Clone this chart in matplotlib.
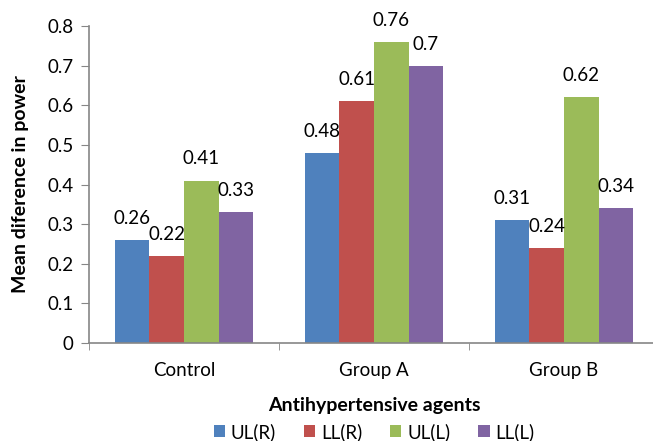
import numpy as np
import matplotlib.pyplot as plt

plt.rcParams['font.family'] = ['Lato', 'DejaVu Sans']

groups = ['Control', 'Group A', 'Group B']
series = ['UL(R)', 'LL(R)', 'UL(L)', 'LL(L)']
ul_r = [0.26, 0.48, 0.31]
ll_r = [0.22, 0.61, 0.24]
ul_l = [0.41, 0.76, 0.62]
ll_l = [0.33, 0.70, 0.34]
colors = ['#4F81BD', '#C0504D', '#9BBB59', '#8064A2']

fig = plt.figure(figsize=(6.53, 4.41), dpi=100)
ax = fig.add_axes([89 / 653, 98 / 441, 570 / 653, 317 / 441])

x = np.arange(len(groups))
w = 0.182
for i, (vals, name) in enumerate(zip([ul_r, ll_r, ul_l, ll_l], series)):
    pos = x + (i - 1.5) * w
    ax.bar(pos, vals, w, color=colors[i], label=name)
    for p, v in zip(pos, vals):
        ax.text(p, v + 0.033, f'{v:g}', ha='center', va='bottom', fontsize=13.5)

ax.set_xlim(-0.5, 2.5)
ax.set_ylim(0, 0.8)
ax.set_yticks(np.arange(0, 0.81, 0.1))
ax.set_yticklabels(['0', '0.1', '0.2', '0.3', '0.4', '0.5', '0.6', '0.7', '0.8'])
ax.set_xticks(x)
ax.set_xticklabels(groups)
ax.set_xticks([-0.5, 0.5, 1.5, 2.5], minor=True)
ax.tick_params(axis='x', which='major', length=0, labelsize=13.5, pad=14)
ax.tick_params(axis='x', which='minor', length=5, color='#868686', direction='out')
ax.tick_params(axis='y', length=6, color='#868686', labelsize=13.5, pad=5)
for s in ['top', 'right']:
    ax.spines[s].set_visible(False)
for s in ['left', 'bottom']:
    ax.spines[s].set_color('#868686')
    ax.spines[s].set_linewidth(1.2)

ax.set_ylabel('Mean diference in power', fontsize=14, fontweight='bold')
ax.yaxis.set_label_coords(-60 / 570, 0.5)
fig.text(374 / 653, 1 - 405 / 441, 'Antihypertensive agents', ha='center', va='center',
         fontsize=14, fontweight='bold')
fig.legend(loc='center', bbox_to_anchor=(374 / 653, 1 - 432 / 441), ncol=4, frameon=False,
           fontsize=13.5, handlelength=0.6, handleheight=0.6, handletextpad=0.3,
           columnspacing=1.5, borderpad=0)

fig.savefig('out.png', dpi=100)
